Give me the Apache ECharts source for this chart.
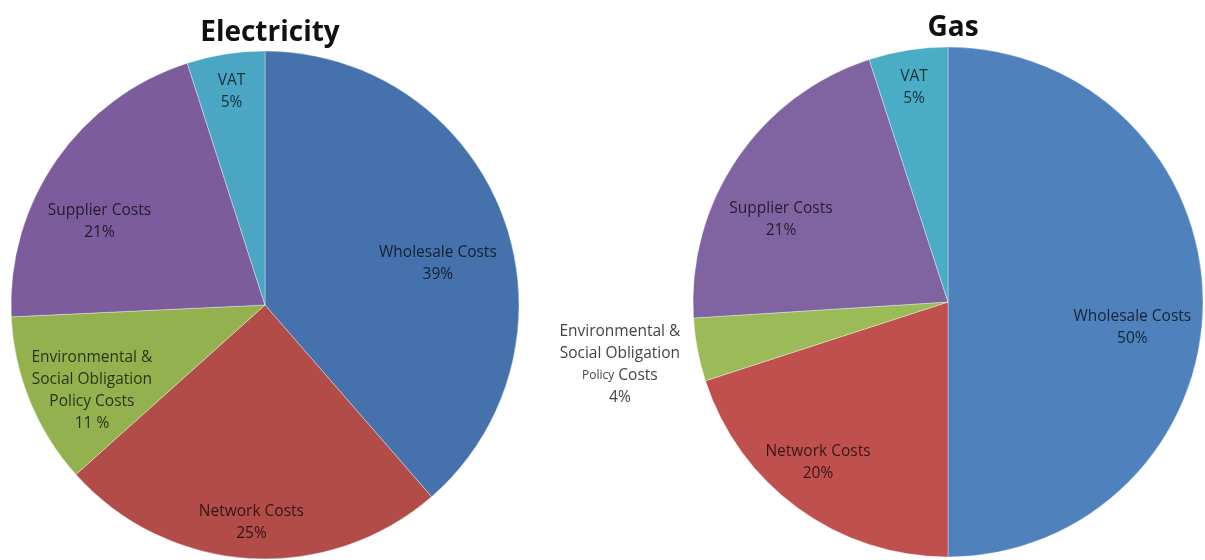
<!DOCTYPE html>
<html>
<head>
<meta charset="utf-8">
<script src="https://cdn.jsdelivr.net/npm/echarts@6/dist/echarts.min.js"></script>
<style>
  html, body { margin: 0; padding: 0; background: #ffffff; }
  #chart { width: 1205px; height: 560px; }
</style>
</head>
<body>
<div id="chart"></div>
<script>
// Bill components, clockwise from 12 o'clock
const categories = [
  'Wholesale Costs',
  'Network Costs',
  'Environmental &\nSocial Obligation\nPolicy Costs',
  'Supplier Costs',
  'VAT'
];
const electricityValues = [39, 25, 11, 21, 5];
const electricityPctText = ['39%', '25%', '11 %', '21%', '5%'];
const gasValues = [50, 20, 4, 21, 5];
const gasPctText = ['50%', '20%', '4%', '21%', '5%'];

// Slice colours (Office palette; electricity slightly deeper)
const electricityColors = ['#4571ac', '#b24c48', '#93b14f', '#7c5c9c', '#4aa6c2'];
const gasColors = ['#4f81bd', '#c0504d', '#9bbb59', '#8064a2', '#4bacc6'];

// Label placement: fraction of the radius, plus a small turn (degrees) off each slice's mid-angle
const electricityLabelRadius = [0.70, 0.86, 0.76, 0.73, 0.85];
const electricityLabelTurn = [7, 0, -4, -8, 0];
const gasLabelRadius = [0.73, 0.81, 1.31, 0.73, 0.85];
const gasLabelTurn = [8, 3, 0, -8, 0];

const pies = [
  { title: 'Electricity', titleTop: 14, cx: 265, cy: 305, r: 254,
    values: electricityValues, pct: electricityPctText, colors: electricityColors,
    labelRadius: electricityLabelRadius, labelTurn: electricityLabelTurn, outside: [] },
  { title: 'Gas', titleTop: 9, cx: 948, cy: 302, r: 255,
    values: gasValues, pct: gasPctText, colors: gasColors,
    labelRadius: gasLabelRadius, labelTurn: gasLabelTurn, outside: [2] }
];

function labelPlacer(p) {
  const total = p.values.reduce((a, b) => a + b, 0);
  const starts = [];
  let acc = 0;
  p.values.forEach(v => { starts.push(acc); acc += v; });
  return function (params) {
    const i = params.dataIndex;
    const mid = (starts[i] + p.values[i] / 2) / total * Math.PI * 2 + p.labelTurn[i] * Math.PI / 180;
    const d = p.labelRadius[i] * p.r;
    return { x: p.cx + d * Math.sin(mid), y: p.cy - d * Math.cos(mid) };
  };
}

const FONT = '"Open Sans", "Liberation Sans", sans-serif';

const option = {
  backgroundColor: '#ffffff',
  animation: false,
  title: pies.map(p => ({
    text: p.title,
    left: p.cx,
    top: p.titleTop,
    textAlign: 'center',
    textStyle: { fontFamily: FONT, fontWeight: 'bold', fontSize: 28, color: '#111111' }
  })),
  series: pies.map(p => ({
    type: 'pie',
    center: [p.cx, p.cy],
    radius: [0, p.r],
    startAngle: 90,
    clockwise: true,
    avoidLabelOverlap: false,
    itemStyle: { borderColor: 'rgba(255,255,255,0.35)', borderWidth: 1 },
    labelLine: { show: false },
    labelLayout: labelPlacer(p),
    data: categories.map((name, i) => {
      const isOutside = p.outside.indexOf(i) >= 0;
      return {
        name: name,
        value: p.values[i],
        itemStyle: { color: p.colors[i] },
        label: {
          color: isOutside ? 'rgba(40,40,40,0.88)' : 'rgba(0,0,0,0.72)'
        }
      };
    }),
    label: {
      show: true,
      position: 'inside',
      align: 'center',
      verticalAlign: 'middle',
      fontFamily: FONT,
      fontSize: 15.5,
      lineHeight: 22,
      formatter: function (params) {
        let name = params.name;
        if (p.outside.indexOf(params.dataIndex) >= 0) {
          name = name.replace('Policy', '{s|Policy}');
        }
        return name + '\n' + p.pct[params.dataIndex];
      },
      rich: {
        s: { fontFamily: FONT, fontSize: 12, lineHeight: 22, color: 'rgba(40,40,40,0.88)' }
      }
    }
  }))
};

const chart = echarts.init(document.getElementById('chart'), null, { renderer: 'canvas' });
chart.setOption(option);
</script>
</body>
</html>
